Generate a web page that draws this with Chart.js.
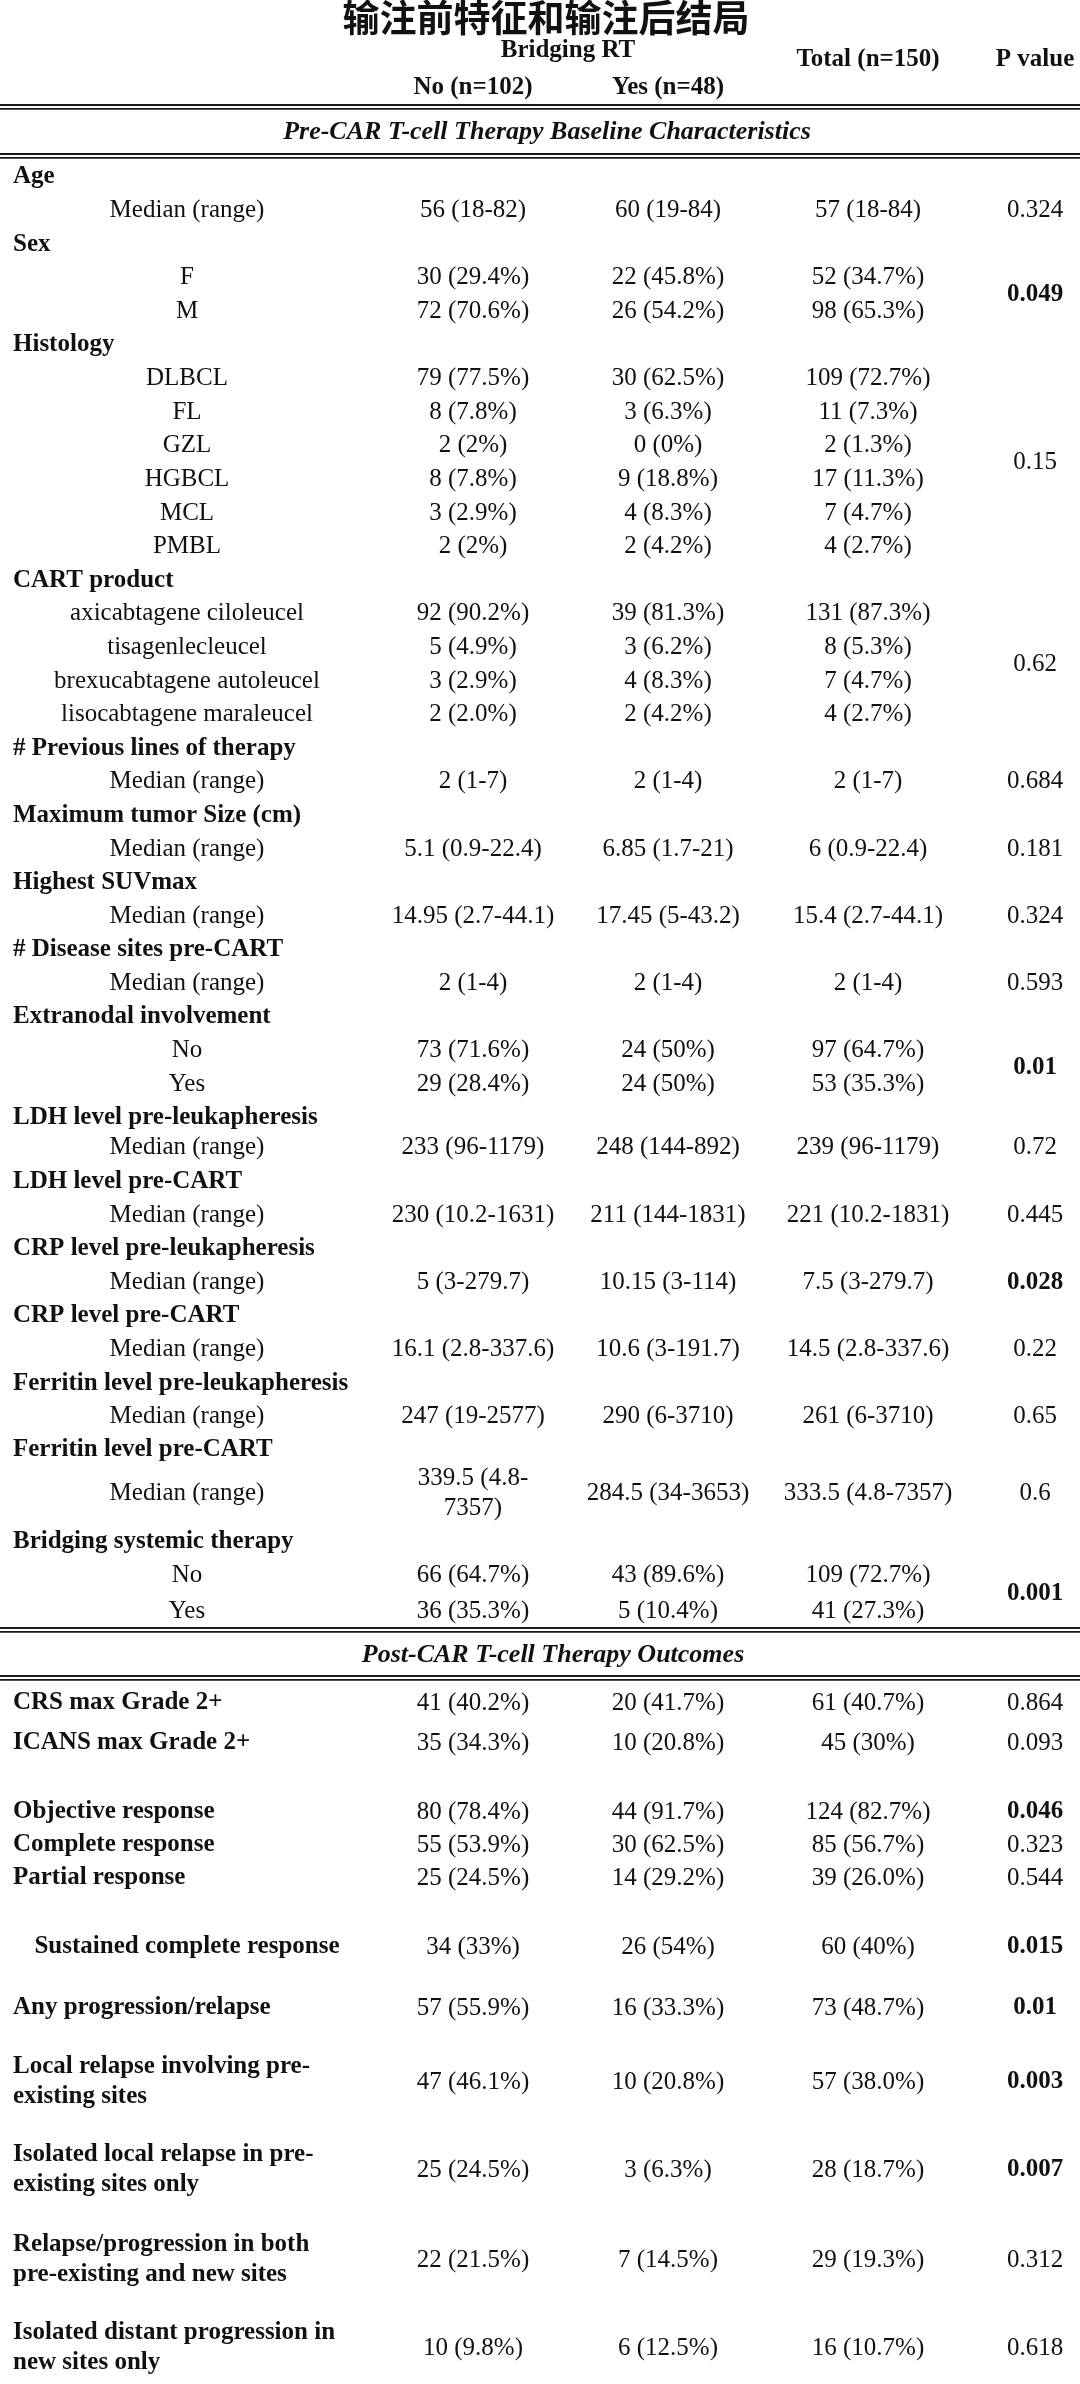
<!DOCTYPE html>
<html><head><meta charset="utf-8">
<script src="https://cdn.jsdelivr.net/npm/chart.js@4.4.0/dist/chart.umd.min.js"></script>
<style>html,body{margin:0;padding:0;background:#fff}#wrap{width:1080px;height:2384px}</style>
</head><body><div id="wrap"><canvas id="c" width="1080" height="2384"></canvas></div>
<script>
// ---------- DATA ----------
const titleText = '输注前特征和输注后结局';
const groupHeader = 'Bridging RT';
const columnHeaders = ['No (n=102)', 'Yes (n=48)', 'Total (n=150)', 'P value'];
const sectionTitles = ['Pre-CAR T-cell Therapy Baseline Characteristics', 'Post-CAR T-cell Therapy Outcomes'];

const baseLabels = ['Age','Median (range)','Sex','F','M','Histology','DLBCL','FL','GZL','HGBCL','MCL','PMBL',
  'CART product','axicabtagene ciloleucel','tisagenlecleucel','brexucabtagene autoleucel','lisocabtagene maraleucel',
  '# Previous lines of therapy','Median (range)','Maximum tumor Size (cm)','Median (range)','Highest SUVmax','Median (range)',
  '# Disease sites pre-CART','Median (range)','Extranodal involvement','No','Yes',
  'LDH level pre-leukapheresis','Median (range)','LDH level pre-CART','Median (range)',
  'CRP level pre-leukapheresis','Median (range)','CRP level pre-CART','Median (range)',
  'Ferritin level pre-leukapheresis','Median (range)','Ferritin level pre-CART','Median (range)',
  'Bridging systemic therapy','No','Yes'];
const baseIsVariable = [1,0,1,0,0,1,0,0,0,0,0,0,1,0,0,0,0,1,0,1,0,1,0,1,0,1,0,0,1,0,1,0,1,0,1,0,1,0,1,0,1,0,0];
const baseNo = ['','56 (18-82)','','30 (29.4%)','72 (70.6%)','','79 (77.5%)','8 (7.8%)','2 (2%)','8 (7.8%)','3 (2.9%)','2 (2%)',
  '','92 (90.2%)','5 (4.9%)','3 (2.9%)','2 (2.0%)','','2 (1-7)','','5.1 (0.9-22.4)','','14.95 (2.7-44.1)','','2 (1-4)',
  '','73 (71.6%)','29 (28.4%)','','233 (96-1179)','','230 (10.2-1631)','','5 (3-279.7)','','16.1 (2.8-337.6)',
  '','247 (19-2577)','','339.5 (4.8-\n7357)','','66 (64.7%)','36 (35.3%)'];
const baseYes = ['','60 (19-84)','','22 (45.8%)','26 (54.2%)','','30 (62.5%)','3 (6.3%)','0 (0%)','9 (18.8%)','4 (8.3%)','2 (4.2%)',
  '','39 (81.3%)','3 (6.2%)','4 (8.3%)','2 (4.2%)','','2 (1-4)','','6.85 (1.7-21)','','17.45 (5-43.2)','','2 (1-4)',
  '','24 (50%)','24 (50%)','','248 (144-892)','','211 (144-1831)','','10.15 (3-114)','','10.6 (3-191.7)',
  '','290 (6-3710)','','284.5 (34-3653)','','43 (89.6%)','5 (10.4%)'];
const baseTotal = ['','57 (18-84)','','52 (34.7%)','98 (65.3%)','','109 (72.7%)','11 (7.3%)','2 (1.3%)','17 (11.3%)','7 (4.7%)','4 (2.7%)',
  '','131 (87.3%)','8 (5.3%)','7 (4.7%)','4 (2.7%)','','2 (1-7)','','6 (0.9-22.4)','','15.4 (2.7-44.1)','','2 (1-4)',
  '','97 (64.7%)','53 (35.3%)','','239 (96-1179)','','221 (10.2-1831)','','7.5 (3-279.7)','','14.5 (2.8-337.6)',
  '','261 (6-3710)','','333.5 (4.8-7357)','','109 (72.7%)','41 (27.3%)'];
const basePValues = ['0.324','0.049','0.15','0.62','0.684','0.181','0.324','0.593','0.01','0.72','0.445','0.028','0.22','0.65','0.6','0.001'];
const basePFirstRow = [1,3,6,13,18,20,22,24,26,29,31,33,35,37,39,41];
const basePLastRow  = [1,4,11,16,18,20,22,24,27,29,31,33,35,37,39,42];
const basePSignificant = [0,1,0,0,0,0,0,0,1,0,0,1,0,0,0,1];

const outLabels = ['CRS max Grade 2+','ICANS max Grade 2+','Objective response','Complete response','Partial response',
  'Sustained complete response','Any progression/relapse','Local relapse involving pre-\nexisting sites',
  'Isolated local relapse in pre-\nexisting sites only','Relapse/progression in both\npre-existing and new sites',
  'Isolated distant progression in\nnew sites only'];
const outNo = ['41 (40.2%)','35 (34.3%)','80 (78.4%)','55 (53.9%)','25 (24.5%)','34 (33%)','57 (55.9%)','47 (46.1%)','25 (24.5%)','22 (21.5%)','10 (9.8%)'];
const outYes = ['20 (41.7%)','10 (20.8%)','44 (91.7%)','30 (62.5%)','14 (29.2%)','26 (54%)','16 (33.3%)','10 (20.8%)','3 (6.3%)','7 (14.5%)','6 (12.5%)'];
const outTotal = ['61 (40.7%)','45 (30%)','124 (82.7%)','85 (56.7%)','39 (26.0%)','60 (40%)','73 (48.7%)','57 (38.0%)','28 (18.7%)','29 (19.3%)','16 (10.7%)'];
const outP = ['0.864','0.093','0.046','0.323','0.544','0.015','0.01','0.003','0.007','0.312','0.618'];
const outPSignificant = [0,0,1,0,0,1,1,1,1,0,0];

// ---------- LAYOUT (positions & styles) ----------
const W = 1080, H = 2384;
const COL = { left: 13, level: 187, no: 473, yes: 668, total: 868, p: 1035, groupHdr: 568, title: 546, section1: 547, section2: 553 };
const ROW = { title: 18, group: 51, colHdrLow: 88, colHdrMid: 60, rule1: 105, section1: 132, rule2: 154, rule3: 1628, section2: 1655, rule4: 1676 };
const baseStart = 177, baseStep = 33.6;
const baseGapOverride = {28: 33.4, 29: 30, 30: 34, 38: 33, 39: 44, 40: 48, 41: 34, 42: 36};
const outStart = 1703;
const outGaps = [40, 69, 33, 33, 69, 61, 74, 88, 90, 88];
const outCentered = [0,0,0,0,0,1,0,0,0,0,0];
const LINE_H = 30;
const SERIF = '"Liberation Serif", "Times New Roman", serif';
const F_NORMAL = '25px ' + SERIF;
const F_BOLD = 'bold 25px ' + SERIF;
const F_HDR = 'bold 25px ' + SERIF;
const F_SECTION = 'italic bold 26px ' + SERIF;
const F_TITLE = 'bold 37px "Noto Sans CJK SC", sans-serif';
const INK = '#111111';

const baseY = [];
baseLabels.forEach((_, i) => {
  if (i === 0) baseY.push(baseStart);
  else baseY.push(baseY[i - 1] + (baseGapOverride[i] !== undefined ? baseGapOverride[i] : baseStep));
});
const outY = [outStart];
outGaps.forEach((g, i) => outY.push(outY[i] + g));

// ---------- DATASETS ----------
function pts(texts, xs, ys) {
  const arr = [];
  texts.forEach((t, i) => { if (t !== '') arr.push({ x: typeof xs === 'number' ? xs : xs[i], y: ys[i], t: t }); });
  return arr;
}
const datasets = [];
function addSet(label, data, font, align) {
  datasets.push({ label, data, font, align, pointRadius: 0, pointHoverRadius: 0, showLine: false });
}
addSet('title', [{ x: COL.title, y: ROW.title, t: titleText }], F_TITLE, 'center');
addSet('group', [{ x: COL.groupHdr, y: ROW.group, t: groupHeader }], F_HDR, 'center');
addSet('colHeaders', [
  { x: COL.no, y: ROW.colHdrLow, t: columnHeaders[0] },
  { x: COL.yes, y: ROW.colHdrLow, t: columnHeaders[1] },
  { x: COL.total, y: ROW.colHdrMid, t: columnHeaders[2] },
  { x: COL.p, y: ROW.colHdrMid, t: columnHeaders[3] }], F_HDR, 'center');
addSet('sections', [
  { x: COL.section1, y: ROW.section1, t: sectionTitles[0] },
  { x: COL.section2, y: ROW.section2, t: sectionTitles[1] }], F_SECTION, 'center');

addSet('variables', pts(baseLabels.map((l, i) => baseIsVariable[i] ? l : ''), COL.left, baseY), F_BOLD, 'left');
addSet('levels', pts(baseLabels.map((l, i) => baseIsVariable[i] ? '' : l), COL.level, baseY), F_NORMAL, 'center');
addSet('no', pts(baseNo, COL.no, baseY), F_NORMAL, 'center');
addSet('yes', pts(baseYes, COL.yes, baseY), F_NORMAL, 'center');
addSet('total', pts(baseTotal, COL.total, baseY), F_NORMAL, 'center');
const pY = basePValues.map((_, i) => (baseY[basePFirstRow[i]] + baseY[basePLastRow[i]]) / 2);
addSet('p', pts(basePValues.map((v, i) => basePSignificant[i] ? '' : v), COL.p, pY), F_NORMAL, 'center');
addSet('pSig', pts(basePValues.map((v, i) => basePSignificant[i] ? v : ''), COL.p, pY), F_BOLD, 'center');

addSet('outLabels', pts(outLabels.map((l, i) => outCentered[i] ? '' : l), COL.left, outY), F_BOLD, 'left');
addSet('outLabelsC', pts(outLabels.map((l, i) => outCentered[i] ? l : ''), COL.level, outY), F_BOLD, 'center');
addSet('outNo', pts(outNo, COL.no, outY), F_NORMAL, 'center');
addSet('outYes', pts(outYes, COL.yes, outY), F_NORMAL, 'center');
addSet('outTotal', pts(outTotal, COL.total, outY), F_NORMAL, 'center');
addSet('outP', pts(outP.map((v, i) => outPSignificant[i] ? '' : v), COL.p, outY), F_NORMAL, 'center');
addSet('outPSig', pts(outP.map((v, i) => outPSignificant[i] ? v : ''), COL.p, outY), F_BOLD, 'center');

// ---------- PLUGIN ----------
const tablePlugin = {
  id: 'tableText',
  beforeDraw(chart) {
    const c = chart.ctx;
    c.save(); c.fillStyle = '#fff'; c.fillRect(0, 0, chart.width, chart.height); c.restore();
  },
  afterDatasetsDraw(chart) {
    const c = chart.ctx, xs = chart.scales.x, ys = chart.scales.y;
    c.save();
    // double rules
    c.strokeStyle = '#1a1a1a'; c.lineWidth = 1.8;
    [ROW.rule1, ROW.rule2, ROW.rule3, ROW.rule4].forEach(r => {
      [r, r + 3.8].forEach(yy => {
        const py = ys.getPixelForValue(yy);
        c.beginPath(); c.moveTo(xs.getPixelForValue(0), py); c.lineTo(xs.getPixelForValue(W), py); c.stroke();
      });
    });
    c.fillStyle = INK; c.textBaseline = 'middle';
    chart.data.datasets.forEach((ds, di) => {
      const meta = chart.getDatasetMeta(di);
      c.font = ds.font; c.textAlign = ds.align;
      meta.data.forEach((el, j) => {
        const lines = String(ds.data[j].t).split('\n');
        const y0 = el.y - (lines.length - 1) * LINE_H / 2;
        lines.forEach((ln, k) => c.fillText(ln, el.x, y0 + k * LINE_H));
      });
    });
    c.restore();
  }
};

new Chart(document.getElementById('c').getContext('2d'), {
  type: 'scatter',
  data: { datasets },
  options: {
    responsive: false, animation: false, devicePixelRatio: 1,
    layout: { padding: 0 },
    events: [],
    plugins: { legend: { display: false }, tooltip: { enabled: false } },
    scales: {
      x: { type: 'linear', min: 0, max: W, display: false },
      y: { type: 'linear', min: 0, max: H, reverse: true, display: false }
    }
  },
  plugins: [tablePlugin]
});
</script></body></html>
